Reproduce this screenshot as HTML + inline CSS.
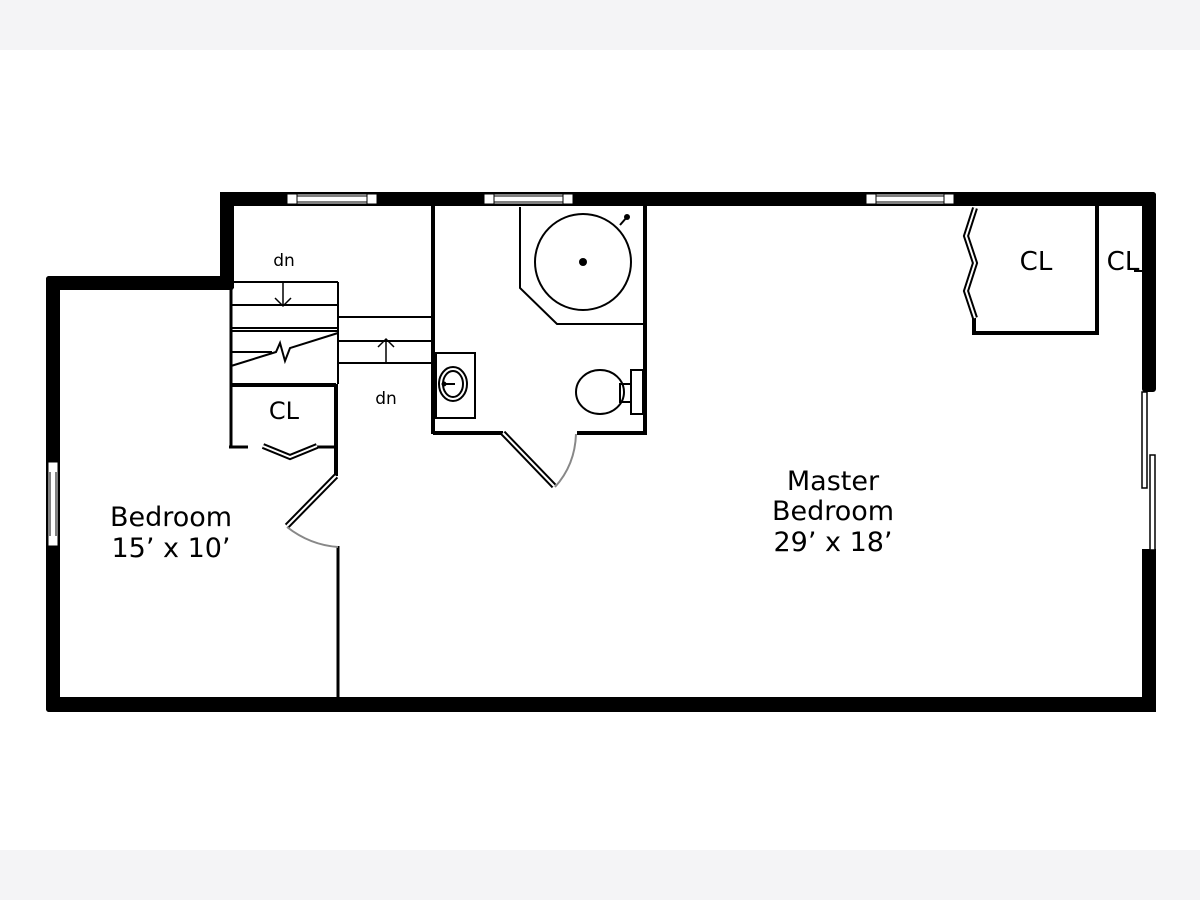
<!DOCTYPE html>
<html><head><style>
html,body{margin:0;padding:0;background:#fff;}
.band{position:absolute;left:0;width:1200px;height:50px;background:#f4f4f6;}
svg{position:absolute;left:0;top:0;}
text{font-family:"DejaVu Sans","Liberation Sans",sans-serif;fill:#000;}
</style></head><body>
<div class="band" style="top:0"></div>
<div class="band" style="top:850px"></div>
<svg width="1200" height="900" viewBox="0 0 1200 900">
<g fill="#000">
<rect x="220" y="192" width="936" height="14" rx="3"/>
<rect x="220" y="192" width="14" height="96"/>
<rect x="46" y="276" width="188" height="14" rx="3"/>
<rect x="46" y="276" width="14" height="436" rx="3"/>
<rect x="46" y="697" width="1110" height="15" rx="3"/>
<rect x="1142" y="192" width="14" height="200" rx="3"/>
<rect x="1142" y="549" width="14" height="163"/>
</g>
<g fill="#fff" stroke="#000" stroke-width="1">
<rect x="287" y="194" width="90" height="10"/>
<rect x="484" y="194" width="89" height="10"/>
<rect x="866" y="194" width="88" height="10"/>
<rect x="48" y="462" width="10" height="84"/>
</g>
<g stroke="#000" stroke-width="1" fill="none">
<line x1="297" y1="196" x2="367" y2="196"/><line x1="297" y1="202" x2="367" y2="202"/>
<line x1="494" y1="196" x2="563" y2="196"/><line x1="494" y1="202" x2="563" y2="202"/>
<line x1="876" y1="196" x2="944" y2="196"/><line x1="876" y1="202" x2="944" y2="202"/>
<line x1="50" y1="472" x2="50" y2="536"/><line x1="56" y1="472" x2="56" y2="536"/>
<line x1="297" y1="194" x2="297" y2="204"/><line x1="367" y1="194" x2="367" y2="204"/>
<line x1="494" y1="194" x2="494" y2="204"/><line x1="563" y1="194" x2="563" y2="204"/>
<line x1="876" y1="194" x2="876" y2="204"/><line x1="944" y1="194" x2="944" y2="204"/>
</g>
<rect x="1142" y="392" width="5" height="96" fill="#fff" stroke="#000" stroke-width="1.5"/>
<rect x="1150" y="455" width="5" height="95" fill="#fff" stroke="#000" stroke-width="1.5"/>

<g stroke="#000" stroke-width="2" fill="none">
<line x1="231" y1="288" x2="231" y2="448" stroke-width="3"/>
<line x1="231" y1="282" x2="338" y2="282"/>
<line x1="231" y1="305" x2="338" y2="305"/>
<line x1="231" y1="328" x2="338" y2="328"/>
<line x1="231" y1="331" x2="338" y2="331"/>
<line x1="231" y1="352" x2="272" y2="352"/>
<line x1="338" y1="282" x2="338" y2="384"/>
<line x1="338" y1="317" x2="432" y2="317"/>
<line x1="338" y1="341" x2="432" y2="341"/>
<line x1="338" y1="363" x2="432" y2="363"/>
<polyline points="231,366 276,352 280,343 285,361 290,348 338,333"/>
<line x1="283" y1="282" x2="283" y2="306" stroke-width="1.5"/>
<polyline points="275,298 283,306 291,298" stroke-width="1.5"/>
<line x1="386" y1="364" x2="386" y2="339" stroke-width="1.5"/>
<polyline points="378,347 386,339 394,347" stroke-width="1.5"/>
</g>
<g stroke="#000" stroke-width="3" fill="none">
<line x1="231" y1="385" x2="336" y2="385" stroke-width="4"/>
<line x1="336" y1="384" x2="336" y2="476" stroke-width="4"/>
<line x1="229" y1="447" x2="248" y2="447"/>
<line x1="316" y1="447" x2="336" y2="447"/>
<line x1="338" y1="546" x2="338" y2="698"/>
<line x1="433" y1="206" x2="433" y2="434" stroke-width="4"/>
<line x1="433" y1="433" x2="503" y2="433" stroke-width="4"/>
<line x1="577" y1="433" x2="647" y2="433" stroke-width="4"/>
<line x1="645" y1="206" x2="645" y2="434" stroke-width="4"/>
<line x1="1097" y1="206" x2="1097" y2="334" stroke-width="4"/>
<line x1="972" y1="333" x2="1099" y2="333" stroke-width="4"/>
<line x1="974" y1="318" x2="974" y2="333" stroke-width="4"/>
<line x1="1134" y1="271" x2="1142" y2="271" stroke-width="2"/>
</g>
<g fill="none" stroke-linejoin="miter">
<polyline points="263,446 290,457 317,446" stroke="#000" stroke-width="6"/>
<polyline points="263,446 290,457 317,446" stroke="#fff" stroke-width="2"/>
<polyline points="975,208 966,236 975,263 966,291 975,318" stroke="#000" stroke-width="6"/>
<polyline points="975,208 966,236 975,263 966,291 975,318" stroke="#fff" stroke-width="2"/>
<line x1="336" y1="476" x2="287" y2="526" stroke="#000" stroke-width="6"/>
<line x1="336" y1="476" x2="287" y2="526" stroke="#fff" stroke-width="2"/>
<line x1="503" y1="433" x2="554" y2="486" stroke="#000" stroke-width="6"/>
<line x1="503" y1="433" x2="554" y2="486" stroke="#fff" stroke-width="2"/>
</g>
<g fill="none" stroke="#888" stroke-width="2">
<path d="M287,527 Q310,545 338,547"/>
<path d="M555,487 Q575,465 576,434"/>
</g>
<g fill="none" stroke="#000" stroke-width="2">
<polyline points="520,207 520,288 557,324 644,324"/>
<circle cx="583" cy="262" r="48"/>
<line x1="620" y1="225" x2="627" y2="217"/>
<rect x="436" y="353" width="39" height="65"/>
<ellipse cx="453" cy="384" rx="14" ry="17"/>
<ellipse cx="453" cy="384" rx="10" ry="13"/>
<line x1="444" y1="384" x2="455" y2="384"/>
<ellipse cx="600" cy="392" rx="24" ry="22"/>
<rect x="631" y="370" width="12" height="44"/>
<rect x="620" y="384" width="11" height="18"/>
</g>
<circle cx="583" cy="262" r="4"/>
<circle cx="627" cy="217" r="3"/>
<circle cx="444" cy="384" r="2.5"/>
<g text-anchor="middle">
<text x="284" y="266" font-size="17">dn</text>
<text x="386" y="404" font-size="17">dn</text>
<text x="284" y="419" font-size="24">CL</text>
<text x="1036" y="270" font-size="26">CL</text>
<text x="1123" y="270" font-size="26">CL</text>
<text x="171" y="526" font-size="27">Bedroom</text>
<text x="171" y="557" font-size="27">15’ x 10’</text>
<text x="833" y="490" font-size="27">Master</text>
<text x="833" y="520" font-size="27">Bedroom</text>
<text x="833" y="551" font-size="27">29’ x 18’</text>
</g>
</svg>
</body></html>
